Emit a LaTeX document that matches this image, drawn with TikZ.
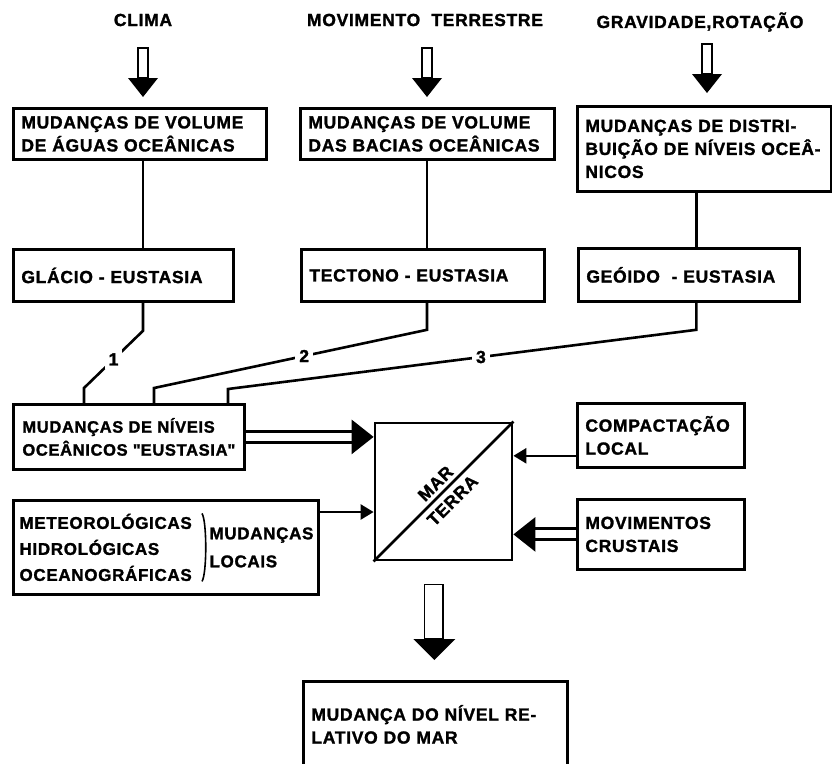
\documentclass[tikz,border=0pt]{standalone}
\usepackage{fontspec}
\setmainfont{Liberation Sans}[LetterSpace = 4, BoldFeatures = {FakeBold = 1.5}]
\usetikzlibrary{arrows.meta, calc}

% hollow shaft with a solid head: top, tip, half shaft, half head, head length
\newcommand{\blockarrow}[5]{%
	\draw [line width = 1.8pt] ($(#1) + (-#3, 0)$) rectangle ($(#2) + (#3, -#5)$);
	\fill ($(#2) + (-#4, -#5)$) -- ($(#2) + (#4, -#5)$) -- (#2) -- cycle;
}

\begin{document}
\begin{tikzpicture}[x = 1pt, y = -1pt, > = {Triangle[length = 13pt, width = 15pt]},
	every node/.style = {font = \bfseries\fontsize{17.5}{23}\selectfont},
	box/.style = {draw, line width = 2.8pt, anchor = north west, align = left, inner xsep = 8pt, inner ysep = 0pt},
	link/.style = {line width = 2.6pt},
	twin/.style = {double, double distance = 8pt, line width = 3pt, -{Triangle[length = 22pt, width = 34pt]}},
	num/.style = {fill = white, inner sep = 4pt}]

	\useasboundingbox (0, 0) rectangle (832, 763);

	% Causes
	
	\node (clima) at (143, 20) {CLIMA};
	\node (movim) at (425, 20) {MOVIMENTO\ \ TERRESTRE};
	\node (grav) at (700, 22) {GRAVIDADE,ROTAÇÃO};
	
	\coordinate (c1) at (143, 48);
	\coordinate (t1) at (143, 97);
	\coordinate (c2) at (427, 48);
	\coordinate (t2) at (427, 97);
	\coordinate (c3) at (707, 44);
	\coordinate (t3) at (707, 93);
	
	\blockarrow{c1}{t1}{5}{15}{19}
	\blockarrow{c2}{t2}{5}{15}{19}
	\blockarrow{c3}{t3}{5}{15}{19}
	
	% Upper boxes
	
	\node [box, text width = 237, minimum height = 51] (vol) at (12, 107) {MUDANÇAS DE VOLUME\\DE ÁGUAS OCEÂNICAS};
	\node [box, text width = 238, minimum height = 51] (bacias) at (299, 107) {MUDANÇAS DE VOLUME\\DAS BACIAS OCEÂNICAS};
	\node [box, text width = 238, minimum height = 85] (distrib) at (576, 105) {MUDANÇAS DE DISTRI-\\BUIÇÃO DE NÍVEIS OCEÂ-\\NICOS};
	
	\node [box, text width = 204, minimum height = 52] (glacio) at (12, 248) {GLÁCIO - EUSTASIA};
	\node [box, text width = 227, minimum height = 52] (tectono) at (300, 248) {TECTONO - EUSTASIA};
	\node [box, text width = 205, minimum height = 53] (geoido) at (577, 247) {GEÓIDO\ \ - EUSTASIA};
	
	\draw [link] (vol.south -| c1) -- (glacio.north -| c1);
	\draw [link] (bacias.south -| c2) -- (tectono.north -| c2);
	\draw [link] ($(distrib.south) + (-8, 0)$) -- ($(geoido.north) + (7.5, 0)$);
	
	% Eustasia
	
	\node [box, minimum width = 231, minimum height = 65, inner xsep = 4pt, font = \bfseries\fontsize{16.5}{23}\selectfont] (niveis) at (12, 403) {MUDANÇAS DE NÍVEIS\\OCEÂNICOS \textquotedbl EUSTASIA\textquotedbl};
	
	\draw [link] (glacio.south -| c1) -- ++(0, 28) -- node [num] {1} (84, 388) -- ++(0, 15);
	\draw [link] (tectono.south -| c2) -- ++(0, 27) -- node [num, pos = 0.45] {2} (154, 388) -- ++(0, 15);
	\draw [link] ($(geoido.south) + (7.5, 0)$) -- ++(0, 27) -- node [num, pos = 0.46] {3} (228, 389) -- ++(0, 14);
	
	% Local effects
	
	\node [box, minimum width = 305, minimum height = 94] (locais) at (12, 499) {};
	\node [anchor = west, align = left, font = \bfseries\fontsize{17}{26}\selectfont] (meteo) at ($(locais.west) + (4, 0)$) {METEOROLÓGICAS\\HIDROLÓGICAS\\OCEANOGRÁFICAS};
	\node [anchor = west, align = left, font = \bfseries\fontsize{17}{28}\selectfont] (mudloc) at ($(locais.west) + (194, 0)$) {MUDANÇAS\\LOCAIS};
	\draw [line width = 1.6pt] ($(mudloc.west) + (-4, -34)$) .. controls ($(mudloc.west) + (1, -26)$) and ($(mudloc.west) + (1, 26)$) .. ($(mudloc.west) + (-4, 34)$);
	
	\node [box, text width = 151, minimum height = 64] (compact) at (576, 402) {COMPACTAÇÃO\\LOCAL};
	\node [box, text width = 151, minimum height = 70] (crustais) at (576, 498) {MOVIMENTOS\\CRUSTAIS};
	
	% Sea / land square
	
	\node [draw, line width = 2.8pt, minimum size = 137, inner sep = 0pt] (mar) at (443.5, 491.5) {};
	\draw [link] (mar.south west) -- (mar.north east);
	\node [rotate = 45, inner sep = 0pt] (marlbl) at ($(mar.center) + (-8, -8)$) {MAR};
	\node [rotate = 45, inner sep = 0pt] (terra) at ($(mar.center) + (9, 9)$) {TERRA};
	
	\draw [twin] (niveis.east) -- (niveis.east -| mar.west);
	\draw [link, ->] ($(locais.north east) + (0, 13)$) coordinate (l1) -- (l1 -| mar.west);
	\draw [link, ->] ($(compact.south west) + (0, -13)$) coordinate (k1) -- (k1 -| mar.east);
	\draw [twin] (crustais.west) -- (crustais.west -| mar.east);
	
	% Result
	
	\node [box, text width = 248, minimum height = 86] (relativo) at (302, 680) {MUDANÇA DO NÍVEL RE-\\LATIVO DO MAR};
	
	\coordinate (b0) at ($(mar.south) + (-10.5, 23)$);
	\coordinate (bt) at ($(relativo.north) + (-1, -20)$);
	\blockarrow{b0}{bt}{8.5}{21}{21}

\end{tikzpicture}
\end{document}
